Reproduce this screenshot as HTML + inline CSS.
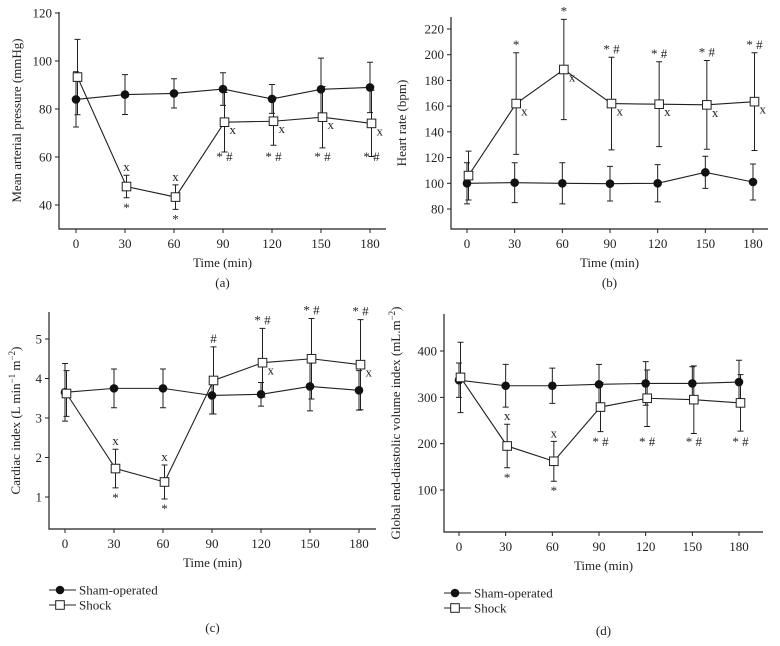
<!DOCTYPE html>
<html><head><meta charset="utf-8"><style>
body{margin:0;background:#fff}
svg{display:block;font-family:"Liberation Serif",serif}
text{fill:#231f20}
</style></head><body>
<svg id="fig" width="780" height="646" viewBox="0 0 780 646"></svg>
<script>
const times=[0,30,60,90,120,150,180];
const mapSham=[84,86,86.5,88.3,84.2,88.2,89];
const mapShamErr=[11.5,8.3,6.1,6.8,6,13,10.5];
const mapShock=[93.3,47.7,43.3,74.5,74.9,76.6,74];
const mapShockErr=[15.7,4.7,5.1,12.4,10,12.8,13.8];
const mapTicks=[40,60,80,100,120];
const hrSham=[100,100.5,100,99.7,100,108.5,101];
const hrShamErr=[16,15.5,16,13.5,14.5,12.5,14];
const hrShock=[106,162,188.5,162,161.5,161,163.5];
const hrShockErr=[19,39.5,39,36,33,34.5,38];
const hrTicks=[80,100,120,140,160,180,200,220];
const ciSham=[3.65,3.75,3.75,3.57,3.6,3.8,3.7];
const ciShamErr=[0.73,0.49,0.49,0.47,0.3,0.62,0.5];
const ciShock=[3.62,1.72,1.38,3.95,4.4,4.5,4.35];
const ciShockErr=[0.58,0.49,0.43,0.85,0.87,1.02,1.14];
const ciTicks=[1,2,3,4,5];
const gSham=[337,325,325,328,330,330,333];
const gShamErr=[37,46,38,43,47,36,47];
const gShock=[343,195,162,279,298,295,288];
const gShockErr=[76,47,43,53,61,73,61];
const gTicks=[100,200,300,400];
const mapMarks=['','xa*b','xa*b','xr*#b','xr*#b','xr*#b','xr*#b'];
const hrMarks=['','*axr','*axr','*#axr','*#axr','*#axr','*#axr'];
const ciMarks=['','xa*b','xa*b','#a','*#axr','*#a','*#axr'];
const gMarks=['','xa*b','xa*b','*#b','*#b','*#b','*#b'];

const NS='http://www.w3.org/2000/svg';
const svg=document.getElementById('fig');
function el(tag,attrs,parent,txt){const e=document.createElementNS(NS,tag);for(const k in attrs)e.setAttribute(k,attrs[k]);if(txt!==undefined)e.textContent=txt;(parent||svg).appendChild(e);return e;}

function panel(p){
  const g=el('g',{},svg);
  
  
  const X=t=>p.x0+(t-0)*(p.x180-p.x0)/180;
  const Y=v=>p.yA+(v-p.vA)*(p.yB-p.yA)/(p.vB-p.vA);
  const ax=el('path',{d:`M${p.left},${p.top}V${p.bottom}H${p.right}`,stroke:'#231f20','stroke-width':1.2,fill:'none'},g);
  
  
  p.ticks.forEach(v=>{
    el('line',{x1:p.left-4,x2:p.left,y1:Y(v),y2:Y(v),stroke:'#231f20'},g);
    const t=el('text',{x:p.left-7,y:Y(v)+4.5,'text-anchor':'end','font-size':13},g,v);
    
    
  });
  times.forEach(tm=>{
    el('line',{x1:X(tm),x2:X(tm),y1:p.bottom,y2:p.bottom+4,stroke:'#231f20'},g);
    const t=el('text',{x:X(tm),y:p.bottom+19,'text-anchor':'middle','font-size':13},g,tm);
    
    
  });
  const xt=el('text',{x:(p.left+p.right)/2,y:p.bottom+38,'text-anchor':'middle','font-size':13},g,'Time (min)');
  
  
  const yt=el('text',{transform:`translate(${p.ytx},${(p.top+p.bottom)/2}) rotate(-90)`,'text-anchor':'middle','font-size':13},g);
  yt.innerHTML=p.ytitle;
  
  
  const cap=el('text',{x:(p.left+p.right)/2,y:p.capY,'text-anchor':'middle','font-size':13},g,p.cap);
  
  
  [[p.sham,p.shamErr,0,'sham'],[p.shock,p.shockErr,1.5,'shock']].forEach(([vals,err,off,nm])=>{
    let d='';
    vals.forEach((v,i)=>{d+=(i?'L':'M')+(X(times[i])+off)+','+Y(v);});
    const ln=el('path',{d,stroke:'#231f20','stroke-width':1.1,fill:'none'},g);
    
    
    vals.forEach((v,i)=>{
      const x=X(times[i])+off;
      const e=el('path',{d:`M${x},${Y(v-err[i])}V${Y(v+err[i])}M${x-3},${Y(v-err[i])}H${x+3}M${x-3},${Y(v+err[i])}H${x+3}`,stroke:'#231f20','stroke-width':1,fill:'none'},g);
      
      
    });
  });
  p.sham.forEach((v,i)=>{
    const c=el('circle',{cx:X(times[i]),cy:Y(v),r:4.3,fill:'#111'},g);
    
    
  });
  p.shock.forEach((v,i)=>{
    const r=el('rect',{x:X(times[i])+1.5-4.3,y:Y(v)-4.3,width:8.6,height:8.6,fill:'#fff',stroke:'#231f20','stroke-width':1},g);
    
    
  });
  p.marks.forEach((m,i)=>{
    if(!m)return;
    const x=X(times[i])+1.5, v=p.shock[i], e=p.shockErr[i];
    const add=(txt,ax,ay,anchor)=>{const t=el('text',{x:ax,y:ay,'text-anchor':anchor,'font-size':13},g,txt.replace('*#','* #'));};
    const re=/(\*#|\*|#|x)([abr])/g;let r;
    while((r=re.exec(m))){
      const s=r[1],pos=r[2];
      if(pos==='a') add(s,x,Y(v+e)-4,'middle');
      else if(pos==='b') add(s,x,(s==='*'?Y(v-e)+14:(p.belowY||Y(v-e)+14)),'middle');
      else add(s,x+5,Y(v)+12,'start');
    }
  });
  if(p.legend){
    const lg=el('g',{},g);
    
    
    const [lx,ly]=p.legend;
    el('line',{x1:lx,x2:lx+27,y1:ly,y2:ly,stroke:'#231f20'},lg);
    el('circle',{cx:lx+11,cy:ly,r:4.3,fill:'#111'},lg);
    el('text',{x:lx+30,y:ly+4.5,'font-size':13},lg,'Sham-operated');
    el('line',{x1:lx,x2:lx+27,y1:ly+15,y2:ly+15,stroke:'#231f20'},lg);
    el('rect',{x:lx+6.7,y:ly+10.7,width:8.6,height:8.6,fill:'#fff',stroke:'#231f20'},lg);
    el('text',{x:lx+30,y:ly+19.5,'font-size':13},lg,'Shock');
  }
}
panel({name:'panel-a-map',x0:76,x180:370,yA:205,vA:40,yB:13,vB:120,left:59,right:386,top:12,bottom:229,ticks:mapTicks,sham:mapSham,shamErr:mapShamErr,shock:mapShock,shockErr:mapShockErr,marks:mapMarks,ytx:21,ytitle:'Mean arterial pressure (mmHg)',cap:'(a)',capY:287,belowY:161});
panel({name:'panel-b-hr',x0:467,x180:753,yA:209,vA:80,yB:29,vB:220,left:451,right:768,top:17,bottom:229,ticks:hrTicks,sham:hrSham,shamErr:hrShamErr,shock:hrShock,shockErr:hrShockErr,marks:hrMarks,ytx:406,ytitle:'Heart rate (bpm)',cap:'(b)',capY:287});
panel({name:'panel-c-ci',x0:65,x180:359,yA:497,vA:1,yB:339,vB:5,left:49,right:376,top:312,bottom:529,ticks:ciTicks,sham:ciSham,shamErr:ciShamErr,shock:ciShock,shockErr:ciShockErr,marks:ciMarks,ytx:20,ytitle:'Cardiac index (L min<tspan dy="-5" font-size="9">−1</tspan><tspan dy="5"> m</tspan><tspan dy="-5" font-size="9">−2</tspan><tspan dy="5">)</tspan>',cap:'(c)',capY:632,legend:[49,590]});
panel({name:'panel-d-gedvi',x0:459,x180:739,yA:490,vA:100,yB:351,vB:400,left:444,right:763,top:314,bottom:532,ticks:gTicks,sham:gSham,shamErr:gShamErr,shock:gShock,shockErr:gShockErr,marks:gMarks,ytx:400,ytitle:'Global end-diastolic volume index (mL.m<tspan dy="-5" font-size="9">−2</tspan><tspan dy="5">)</tspan>',cap:'(d)',capY:635,legend:[444,593],belowY:446});
</script>
</body></html>
